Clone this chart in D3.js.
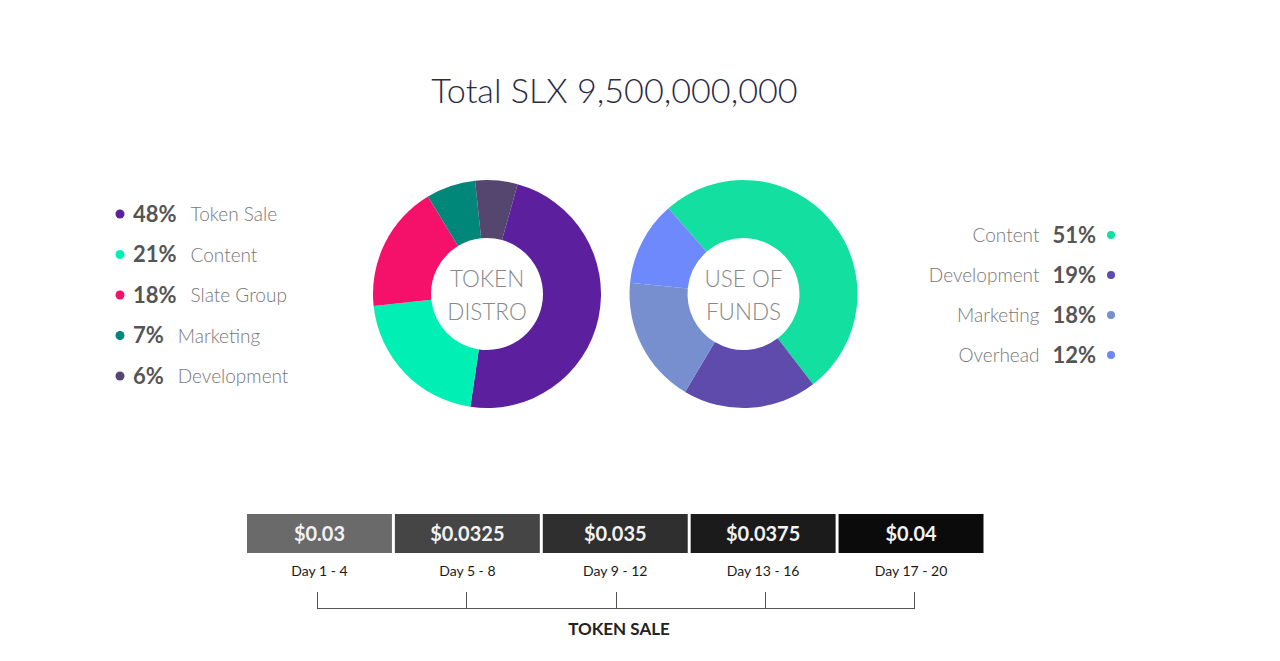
<!DOCTYPE html>
<html>
<head>
<meta charset="utf-8">
<script src="https://cdn.jsdelivr.net/npm/d3@7"></script>
<style>
  body { margin: 0; background: #fff; }
  svg { display: block; font-family: Lato, "Open Sans", sans-serif; }
</style>
</head>
<body>
<div id="chart"></div>
<script>
// TOKEN DISTRIBUTION / USE OF FUNDS / TOKEN SALE

// 1. Data
var titleText = "Total SLX 9,500,000,000";

var distroLabels = ["Token Sale", "Content", "Slate Group", "Marketing", "Development"];
var distroValues = [48, 21, 18, 7, 6];
var distroColors = ["#5c209e", "#00efb4", "#f5106a", "#01877a", "#54466f"];

var fundsLabels = ["Content", "Development", "Marketing", "Overhead"];
var fundsValues = [51, 19, 18, 12];
var fundsColors = ["#13dfa1", "#5e4bab", "#788fcf", "#6e89fb"];

var salePrices = ["$0.03", "$0.0325", "$0.035", "$0.0375", "$0.04"];
var saleDays = ["Day 1 - 4", "Day 5 - 8", "Day 9 - 12", "Day 13 - 16", "Day 17 - 20"];
var saleColors = ["#6a6a6a", "#454545", "#2f2f2f", "#1b1b1b", "#0b0b0b"];

// 2. SVG area
var svgWidth = 1280;
var svgHeight = 661;

var svg = d3.select("#chart")
  .append("svg")
  .attr("width", svgWidth)
  .attr("height", svgHeight);

// Title
svg.append("text")
  .attr("x", 614.5)
  .attr("y", 103)
  .attr("text-anchor", "middle")
  .attr("font-size", "34.2px")
  .attr("font-weight", 300)
  .attr("fill", "#2b2b44")
  .text(titleText);

// 3. Donut helper
var outerR = 114;
var innerR = 56;

function drawDonut(cx, cy, values, colors, startAngle, centerLines) {
  var pie = d3.pie()
    .sort(null)
    .startAngle(startAngle)
    .endAngle(startAngle + 2 * Math.PI);

  var arc = d3.arc()
    .innerRadius(innerR)
    .outerRadius(outerR);

  var g = svg.append("g")
    .attr("transform", `translate(${cx}, ${cy})`);

  g.selectAll("path")
    .data(pie(values))
    .enter()
    .append("path")
    .attr("d", arc)
    .attr("fill", (d, i) => colors[i]);

  g.selectAll(".centerText")
    .data(centerLines)
    .enter()
    .append("text")
    .classed("centerText", true)
    .attr("x", 0)
    .attr("y", (d, i) => -7 + i * 33)
    .attr("text-anchor", "middle")
    .attr("font-size", "22.5px")
    .attr("font-weight", 300)
    .attr("fill", "#888")
    .text(d => d);
}

drawDonut(487, 294, distroValues, distroColors, 0.272, ["TOKEN", "DISTRO"]);
drawDonut(743.5, 294, fundsValues, fundsColors, -0.719, ["USE OF", "FUNDS"]);

// 4. Legends
var leftRows = d3.scaleLinear().domain([0, 4]).range([214, 376]);
var rightRows = d3.scaleLinear().domain([0, 3]).range([235, 355]);

// Left legend: dot, percent, label
distroLabels.forEach(function (label, i) {
  var y = leftRows(i);
  svg.append("circle")
    .attr("cx", 120)
    .attr("cy", y)
    .attr("r", 4.5)
    .attr("fill", distroColors[i]);

  var pct = svg.append("text")
    .attr("x", 133)
    .attr("y", y + 7.5)
    .attr("font-size", "22px")
    .attr("font-weight", 700)
    .attr("fill", "#555")
    .text(distroValues[i] + "%");

  var w = pct.node().getComputedTextLength();

  svg.append("text")
    .attr("x", 133 + w + 14)
    .attr("y", y + 7)
    .attr("font-size", "19px")
    .attr("font-weight", 300)
    .attr("fill", "#777")
    .text(label);
});

// Right legend: label, percent, dot
fundsLabels.forEach(function (label, i) {
  var y = rightRows(i);
  svg.append("circle")
    .attr("cx", 1111)
    .attr("cy", y)
    .attr("r", 4)
    .attr("fill", fundsColors[i]);

  var pct = svg.append("text")
    .attr("x", 1096)
    .attr("y", y + 7.5)
    .attr("text-anchor", "end")
    .attr("font-size", "22px")
    .attr("font-weight", 700)
    .attr("fill", "#555")
    .text(fundsValues[i] + "%");

  var w = pct.node().getComputedTextLength();

  svg.append("text")
    .attr("x", 1096 - w - 13)
    .attr("y", y + 7)
    .attr("text-anchor", "end")
    .attr("font-size", "19px")
    .attr("font-weight", 300)
    .attr("fill", "#777")
    .text(label);
});

// 5. Token sale bars
var xBand = d3.scaleBand()
  .domain(saleDays)
  .range([247, 983.5])
  .paddingInner(0.02);

var saleGroup = svg.append("g");

saleGroup.selectAll("rect")
  .data(saleDays)
  .enter()
  .append("rect")
  .attr("x", d => xBand(d))
  .attr("y", 514)
  .attr("width", xBand.bandwidth())
  .attr("height", 39)
  .attr("fill", (d, i) => saleColors[i]);

saleGroup.selectAll(".priceText")
  .data(saleDays)
  .enter()
  .append("text")
  .classed("priceText", true)
  .attr("x", d => xBand(d) + xBand.bandwidth() / 2)
  .attr("y", 541)
  .attr("text-anchor", "middle")
  .attr("font-size", "20px")
  .attr("font-weight", 700)
  .attr("fill", "#f2f2f2")
  .text((d, i) => salePrices[i]);

saleGroup.selectAll(".dayText")
  .data(saleDays)
  .enter()
  .append("text")
  .classed("dayText", true)
  .attr("x", d => xBand(d) + xBand.bandwidth() / 2)
  .attr("y", 576)
  .attr("text-anchor", "middle")
  .attr("font-size", "14px")
  .attr("font-weight", 400)
  .attr("fill", "#1a1a1a")
  .text(d => d);

// Bracket under the days
var xTick = d3.scalePoint()
  .domain(saleDays)
  .range([317, 914]);

saleGroup.append("line")
  .attr("x1", xTick(saleDays[0]))
  .attr("x2", xTick(saleDays[saleDays.length - 1]))
  .attr("y1", 608.5)
  .attr("y2", 608.5)
  .attr("stroke", "#555")
  .attr("stroke-width", 1);

saleGroup.selectAll(".tick")
  .data(saleDays)
  .enter()
  .append("line")
  .classed("tick", true)
  .attr("x1", d => Math.round(xTick(d)) + 0.5)
  .attr("x2", d => Math.round(xTick(d)) + 0.5)
  .attr("y1", 592)
  .attr("y2", 609)
  .attr("stroke", "#555")
  .attr("stroke-width", 1);

saleGroup.append("text")
  .attr("x", 619)
  .attr("y", 635)
  .attr("text-anchor", "middle")
  .attr("font-size", "17px")
  .attr("font-weight", 700)
  .attr("fill", "#222")
  .text("TOKEN SALE");
</script>
</body>
</html>
